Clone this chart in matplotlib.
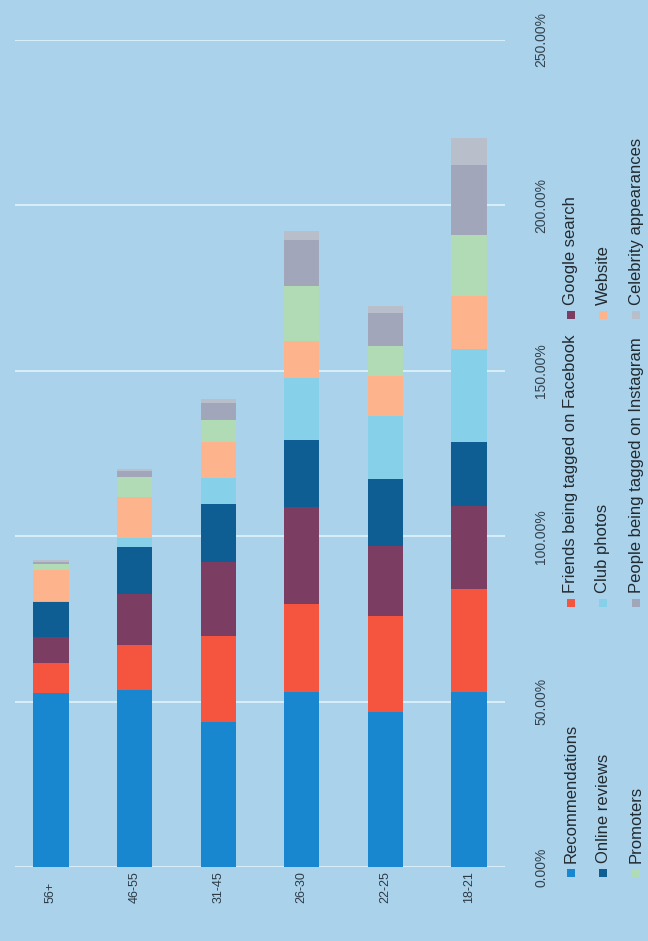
import numpy as np
import matplotlib
matplotlib.use("Agg")
import matplotlib.pyplot as plt
from matplotlib.patches import Rectangle

plt.rcParams['font.family'] = ['Liberation Sans', 'DejaVu Sans']

# Age groups and share of respondents (%) per discovery channel
categories = ['56+', '46-55', '31-45', '26-30', '22-25', '18-21']
recommendations = [52.7, 53.6, 43.9, 53.0, 47.0, 53.0]
friends_facebook = [9.1, 13.6, 25.8, 26.4, 28.8, 30.9]
google_search = [7.6, 15.2, 22.4, 29.4, 21.2, 25.2]
online_reviews = [10.6, 14.2, 17.6, 20.3, 20.3, 19.4]
club_photos = [0.5, 3.0, 7.9, 18.8, 19.1, 28.2]
website = [9.4, 12.1, 10.9, 11.2, 12.1, 15.8]
promoters = [1.8, 6.1, 6.7, 16.4, 9.1, 18.5]
instagram = [0.6, 2.0, 5.0, 14.0, 10.0, 21.2]
celebrity = [0.4, 0.5, 1.4, 2.7, 2.1, 8.2]

series_names = ['Recommendations', 'Friends being tagged on Facebook', 'Google search',
                'Online reviews', 'Club photos', 'Website',
                'Promoters', 'People being tagged on Instagram', 'Celebrity appearances']
series_values = [recommendations, friends_facebook, google_search,
                 online_reviews, club_photos, website,
                 promoters, instagram, celebrity]
colors = ['#1887cf', '#f5553f', '#7c3d62', '#0e5e93', '#86d0ea',
          '#fdb48c', '#b0dbb4', '#a2a6ba', '#b8bfcb']

value_ticks = [0, 50, 100, 150, 200, 250]

BG = '#aad2ea'
W, H = 648, 941
fig = plt.figure(figsize=(W / 100, H / 100), dpi=100, facecolor=BG)

ax = fig.add_axes([15 / W, (H - 867) / H, 490 / W, 827 / H], facecolor=BG)
x = np.arange(len(categories))
bottom = np.zeros(len(categories))
for name, vals, col in zip(series_names, series_values, colors):
    vals = np.asarray(vals, dtype=float)
    ax.bar(x, vals, width=0.42, bottom=bottom, color=col, label=name,
           linewidth=0, zorder=3)
    bottom += vals

ax.set_xlim(-0.43, len(categories) - 1 + 0.43)
ax.set_ylim(0, 250)
for s in ax.spines.values():
    s.set_visible(False)

ax.set_yticks(value_ticks)
ax.set_yticklabels([f'{v:.2f}%' for v in value_ticks])
ax.yaxis.tick_right()
ax.tick_params(axis='y', length=0, pad=21, labelsize=10, labelcolor='#34424e',
               labelrotation=90)
for lab in ax.get_yticklabels():
    lab.set_va('center')
    lab.set_ha('left')
ax.grid(axis='y', color='#dcf0fb', linewidth=1.3, zorder=1)
ax.grid(axis='x', visible=False)

ax.set_xticks(x)
ax.set_xticklabels(categories)
ax.tick_params(axis='x', length=0, pad=26, labelsize=9, labelcolor='#2c3a46',
               labelrotation=90)
for lab in ax.get_xticklabels():
    lab.set_va('bottom')
    lab.set_ha('center')

# Legend laid out along the right edge, read bottom-to-top
leg = fig.add_axes([0, 0, 1, 1], facecolor='none')
leg.set_xlim(0, W)
leg.set_ylim(H, 0)
leg.axis('off')
col_x = [571, 603, 636]
row_y = [873, 603, 315]
for i, (name, col) in enumerate(zip(series_names, colors)):
    r, c = divmod(i, 3)
    cx, cy = col_x[r], row_y[c]
    leg.add_patch(Rectangle((cx - 4, cy - 4), 8, 8, facecolor=col, linewidth=0))
    leg.text(cx, cy - 10, name, rotation=90, rotation_mode='anchor',
             ha='left', va='center', fontsize=12, color='#222a30')

fig.savefig('out.png', dpi=100, facecolor=BG)
